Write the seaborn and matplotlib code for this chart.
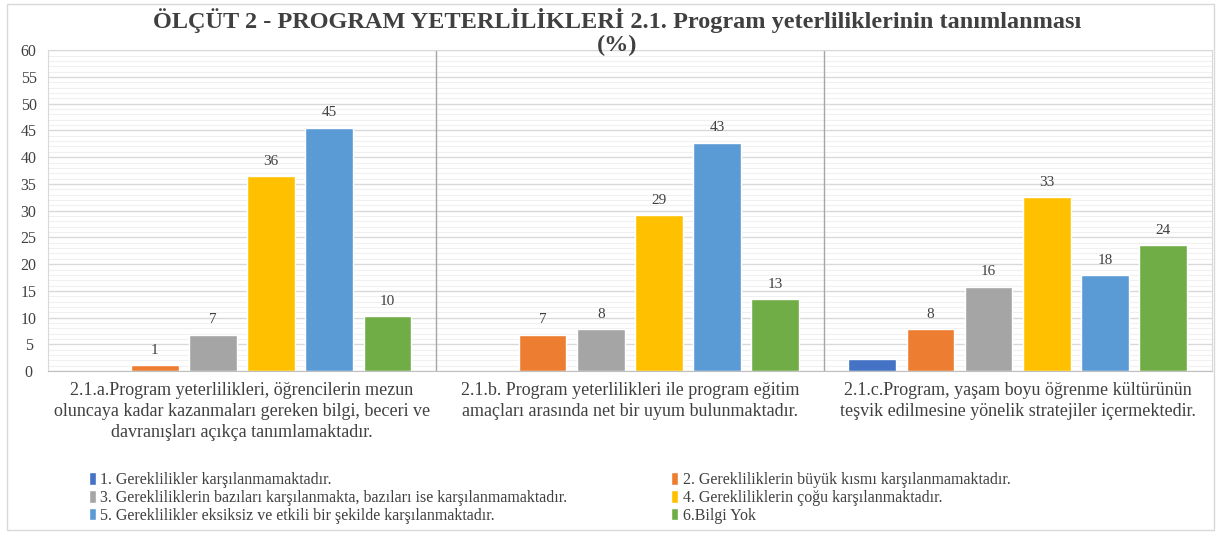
import pandas as pd
import matplotlib.pyplot as plt
import seaborn as sns
from matplotlib.patches import Patch, Rectangle
from matplotlib.ticker import MultipleLocator

# ------------------ data ------------------
categories = [
    "2.1.a.Program yeterlilikleri, öğrencilerin mezun\noluncaya kadar kazanmaları gereken bilgi, beceri ve\ndavranışları açıkça tanımlamaktadır.",
    "2.1.b. Program yeterlilikleri ile program eğitim\namaçları arasında net bir uyum bulunmaktadır.",
    "2.1.c.Program, yaşam boyu öğrenme kültürünün\nteşvik edilmesine yönelik stratejiler içermektedir.",
]
series = [
    "1. Gereklilikler karşılanmamaktadır.",
    "2. Gerekliliklerin büyük kısmı karşılanmamaktadır.",
    "3. Gerekliliklerin bazıları karşılanmakta, bazıları ise karşılanmamaktadır.",
    "4. Gerekliliklerin çoğu karşılanmaktadır.",
    "5. Gereklilikler eksiksiz ve etkili bir şekilde karşılanmaktadır.",
    "6.Bilgi Yok",
]
values_a = [0, 1.1, 6.8, 36.4, 45.5, 10.3]
values_b = [0, 6.8, 7.8, 29.1, 42.7, 13.4]
values_c = [2.2, 7.8, 15.8, 32.5, 18.0, 23.6]
labels_a = ["", "1", "7", "36", "45", "10"]
labels_b = ["", "7", "8", "29", "43", "13"]
labels_c = ["", "8", "16", "33", "18", "24"]
colors = ["#4472C4", "#ED7D31", "#A5A5A5", "#FFC000", "#5B9BD5", "#70AD47"]

rows = []
for cat, vals in zip(categories, [values_a, values_b, values_c]):
    for s, v in zip(series, vals):
        rows.append({"Kategori": cat, "Seri": s, "Deger": v})
df = pd.DataFrame(rows)

# ------------------ plot ------------------
sns.set_style("white")
plt.rcParams["font.family"] = ["Liberation Serif", "DejaVu Serif"]

fig = plt.figure(figsize=(12.19, 5.34), dpi=100)
ax = fig.add_axes([0.0394, 0.305, 0.9545, 0.601])

sns.barplot(data=df, x="Kategori", y="Deger", hue="Seri", hue_order=series,
            order=categories, palette=colors, width=0.9, gap=0.18,
            saturation=1, ax=ax, legend=False)

# bar labels
for cont, i in zip(ax.containers, range(len(series))):
    labs = [labels_a[i], labels_b[i], labels_c[i]]
    ax.bar_label(cont, labels=labs, padding=6, fontsize=11, color="#404040")

ax.set_ylim(0, 60)
ax.set_xlim(-0.5, 2.5)
ax.yaxis.set_major_locator(MultipleLocator(5))
ax.yaxis.set_minor_locator(MultipleLocator(1))
ax.grid(axis="y", which="major", color="#D9D9D9", linewidth=1)
ax.grid(axis="y", which="minor", color="#F0F0F0", linewidth=0.8)
ax.set_axisbelow(True)
for xv in [0.5, 1.5]:
    ax.axvline(xv, color="#A6A6A6", linewidth=1, zorder=0.9)
for sp in ["top", "right", "left"]:
    ax.spines[sp].set_color("#D9D9D9")
ax.spines["bottom"].set_color("#BFBFBF")
ax.set_xlabel("")
ax.set_ylabel("")
ax.tick_params(axis="y", labelsize=11.5, labelcolor="#404040", length=0, pad=14)
ax.tick_params(axis="x", labelsize=13, labelcolor="#404040", length=0, pad=8)
for lab in ax.get_yticklabels():
    lab.set_horizontalalignment("center")
for lab in ax.get_xticklabels():
    lab.set_linespacing(1.3)

fig.text(0.506, 0.962, "ÖLÇÜT 2 - PROGRAM YETERLİLİKLERİ 2.1. Program yeterliliklerinin tanımlanması",
         ha="center", va="center", fontsize=17.5, fontweight="bold", color="#404040")
fig.text(0.506, 0.915, "(%)", ha="center", va="center", fontsize=17.5,
         fontweight="bold", color="#404040")

# legend: row-major order like the original (1,2 / 3,4 / 5,6)
handles = [Patch(facecolor=c, label=s) for c, s in zip(colors, series)]
order = [0, 2, 4, 1, 3, 5]
fig.legend(handles=[handles[i] for i in order], ncol=2, loc="upper left",
           bbox_to_anchor=(0.068, 0.128),
           frameon=False, fontsize=11.5, handlelength=0.4, handleheight=0.8,
           handletextpad=0.3, columnspacing=6.5, labelspacing=0.12,
           labelcolor="#404040", borderaxespad=0)

fig.patches.append(Rectangle((0.006, 0.007), 0.99, 0.985, transform=fig.transFigure,
                             fill=False, edgecolor="#D9D9D9", linewidth=1))

fig.savefig("out.png", dpi=100, facecolor="white")
